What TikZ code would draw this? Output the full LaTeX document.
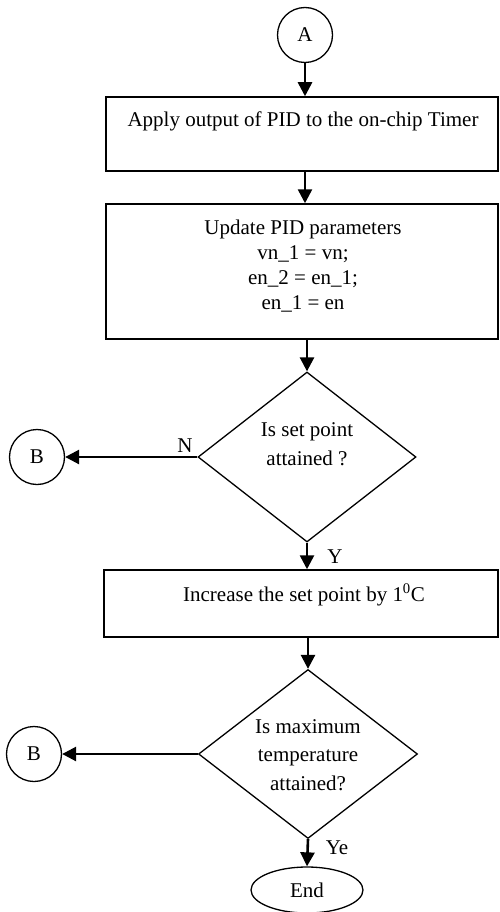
\documentclass[tikz,border=0pt]{standalone}
\usepackage{fontspec}
\setmainfont{Liberation Serif}
\usetikzlibrary{shapes.geometric,arrows.meta}
\begin{document}
\begin{tikzpicture}[x=1pt,y=-1pt,
  font=\fontsize{21}{25}\selectfont,
  box/.style={draw,line width=1.5pt,inner sep=0pt,minimum width=392pt},
  dia/.style={draw,diamond,line width=1.3pt,inner sep=0pt,minimum width=218pt,minimum height=170pt},
  conn/.style={draw,circle,line width=1.3pt,inner sep=0pt,minimum size=55pt},
  term/.style={draw,ellipse,line width=1.3pt,inner sep=0pt,minimum width=112pt,minimum height=46pt},
  txt/.style={inner sep=0pt,align=center},
  dtxt/.style={txt,font=\fontsize{21}{28.5}\selectfont},
  arr/.style={line width=2.6pt,-{Triangle[length=14pt,width=14pt]}}]
\useasboundingbox (0,0) rectangle (500,912);
\node[conn] (A) at (305,35) {A};
\node[box,minimum height=74pt] (b1) at (302,134) {};
\node[txt] (t1) at (303,121) {Apply output of PID to the on-chip Timer};
\node[box,minimum height=135pt] (b2) at (302,271.5) {};
\node[txt,anchor=north] (t2) at (303,220) {Update PID parameters\\vn\_1 = vn;\\en\_2 = en\_1;\\en\_1 = en};
\node[dia] (d1) at (307,457) {};
\node[dtxt] (td1) at (307,444) {Is set point\\attained ?};
\node[conn] (B1) at (37,457) {B};
\node[box,minimum height=67pt,minimum width=394pt] (b3) at (301,603.5) {};
\node[txt] (t3) at (304,595) {Increase the set point by 1\textsuperscript{0}C};
\node[dia,minimum width=219pt,minimum height=169pt] (d2) at (308,754) {};
\node[dtxt] (td2) at (308,755) {Is maximum\\temperature\\attained?};
\node[conn] (B2) at (34,754) {B};
\node[term] (E) at (307,890) {End};
\draw[arr] (A.south) -- (A.south |- b1.north);
\draw[arr] (305,171) coordinate (c1) -- (c1 |- b2.north);
\draw[arr] (d1.north |- b2.south) -- (d1.north);
\draw[arr] (d1.south) -- (d1.south |- b3.north);
\draw[arr] (d2.north |- b3.south) -- (d2.north);
\draw[arr] (d2.south) -- (E.north);
\draw[arr] (d1.west) -- (B1.east);
\draw[arr] (d2.west) -- (B2.east);
\node[txt] (lN) at (185,446) {N};
\node[txt] (lY) at (335,557) {Y};
\node[txt] (lYe) at (337,848) {Ye};
\end{tikzpicture}
\end{document}
